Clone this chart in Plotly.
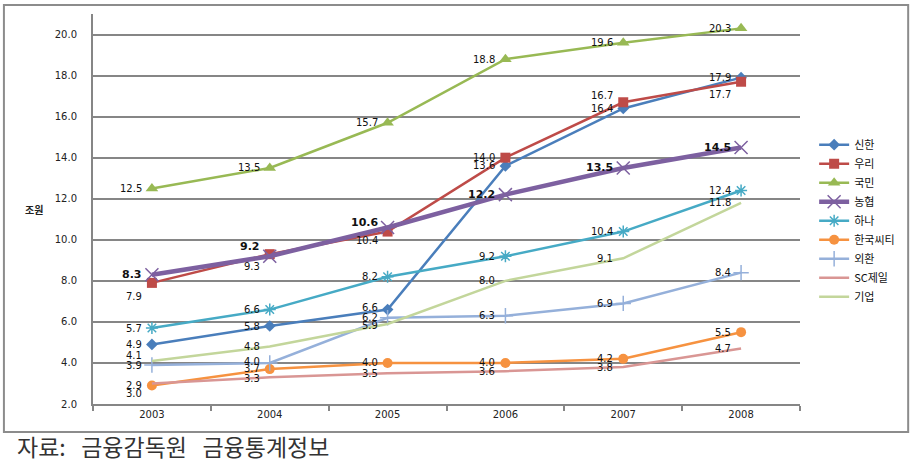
import plotly.graph_objects as go

years = ["2003", "2004", "2005", "2006", "2007", "2008"]

shinhan = [4.9, 5.8, 6.6, 13.6, 16.4, 17.9]
woori = [7.9, 9.3, 10.4, 14.0, 16.7, 17.7]
kookmin = [12.5, 13.5, 15.7, 18.8, 19.6, 20.3]
nonghyup = [8.3, 9.2, 10.6, 12.2, 13.5, 14.5]
hana = [5.7, 6.6, 8.2, 9.2, 10.4, 12.4]
citi = [2.9, 3.7, 4.0, 4.0, 4.2, 5.5]
keb = [3.9, 4.0, 6.2, 6.3, 6.9, 8.4]
scfirst = [3.0, 3.3, 3.5, 3.6, 3.8, 4.7]
ibk = [4.1, 4.8, 5.9, 8.0, 9.1, 11.8]

y_ticks = [2, 4, 6, 8, 10, 12, 14, 16, 18, 20]

series = [
    # name, values, color, symbol, marker size, line width, label y-shifts, bold labels
    ("신한", shinhan, "#4A7EBB", "diamond", 9, 2.5, [0, 0, 2, 0, 0, 0], False),
    ("우리", woori, "#BE4B48", "square", 10, 2.5, [-14, -12, -9, 0, 7, -13], False),
    ("국민", kookmin, "#98B954", "triangle-up", 11, 2.5, [0, 0, 0, 0, 0, 0], False),
    ("농협", nonghyup, "#7D60A0", "x-thin-open", 13, 4.5, [0, 10, 5, 0, 0, 0], True),
    ("하나", hana, "#46AAC5", "asterisk-open", 10, 2.5, [0, 0, 0, 0, 0, 0], False),
    ("한국씨티", citi, "#F69240", "circle", 10, 2.5, [0, 1, 0, 0, 0, 0], False),
    ("외환", keb, "#95B0DA", "cross-thin-open", 11, 2.5, [0, 1, 0, 0, 0, 0], False),
    ("SC제일", scfirst, "#D99694", None, 0, 2.5, [-10, -1, 0, 0, 0, 0], False),
    ("기업", ibk, "#C3D69B", None, 0, 2.5, [5, 0, -2, 0, 0, 0], False),
]

fig = go.Figure()
annotations = []
for name, vals, color, symbol, msize, lw, shifts, bold in series:
    if symbol is None:
        mode = "lines"
        marker = None
    else:
        mode = "lines+markers"
        if "open" in symbol:
            marker = dict(symbol=symbol, size=msize, color=color,
                          line=dict(color=color, width=1.5))
        else:
            marker = dict(symbol=symbol, size=msize, color=color)
    fig.add_trace(go.Scatter(x=years, y=vals, name=name, mode=mode,
                             line=dict(color=color, width=lw),
                             marker=marker))
    for i, (v, s) in enumerate(zip(vals, shifts)):
        txt = f"{v:.1f}"
        annotations.append(dict(
            x=i, y=v, xref="x", yref="y", text=f"<b>{txt}</b>" if bold else txt,
            showarrow=False, xanchor="right", yanchor="middle",
            xshift=-8, yshift=s,
            font=dict(family="DejaVu Sans", size=11 if bold else 10, color="#111111"),
        ))

annotations.append(dict(x=-0.083, y=0.5, xref="paper", yref="paper", text="<b>조원</b>",
                        showarrow=False, xanchor="center", yanchor="middle",
                        font=dict(family="Noto Sans CJK KR", size=10, color="#222222")))
annotations.append(dict(x=-0.111, y=-0.108, xref="paper", yref="paper",
                        text="자료:   금융감독원   금융통계정보",
                        showarrow=False, xanchor="left", yanchor="middle",
                        font=dict(family="Noto Sans CJK KR", size=23, color="#333333")))

fig.update_layout(
    width=912, height=467,
    margin=dict(l=93, r=112, t=14, b=63),
    paper_bgcolor="white", plot_bgcolor="white",
    font=dict(family="DejaVu Sans", size=10, color="#222222"),
    showlegend=True,
    legend=dict(x=1.02, y=0.47, xanchor="left", yanchor="middle",
                font=dict(family="Noto Sans CJK KR", size=11, color="#111111"),
                bgcolor="rgba(0,0,0,0)", itemwidth=30, tracegroupgap=0),
    annotations=annotations,
    shapes=[dict(type="rect", xref="paper", yref="paper",
                 x0=-0.126, x1=1.153, y0=-0.072, y1=1.023,
                 line=dict(color="#8C8C8C", width=2), fillcolor="rgba(0,0,0,0)", layer="below")],
)
fig.update_xaxes(type="category", range=[-0.5, 5.5], showgrid=False,
                 showline=True, linecolor="#868686", linewidth=2,
                 ticks="outside", tickson="boundaries", ticklen=5,
                 tickcolor="#868686", tickwidth=1.5,
                 tickfont=dict(family="DejaVu Sans", size=10, color="#222222"))
fig.update_yaxes(range=[2, 21], tickvals=y_ticks, tickformat=".1f",
                 showgrid=True, gridcolor="#868686", gridwidth=1.5,
                 showline=True, linecolor="#868686", linewidth=2,
                 zeroline=False, ticks="", ticklabelstandoff=12,
                 tickfont=dict(family="DejaVu Sans", size=10, color="#222222"))

fig.write_html("out.html", config={"displayModeBar": False},
               post_script="document.body.style.margin='0px';")
